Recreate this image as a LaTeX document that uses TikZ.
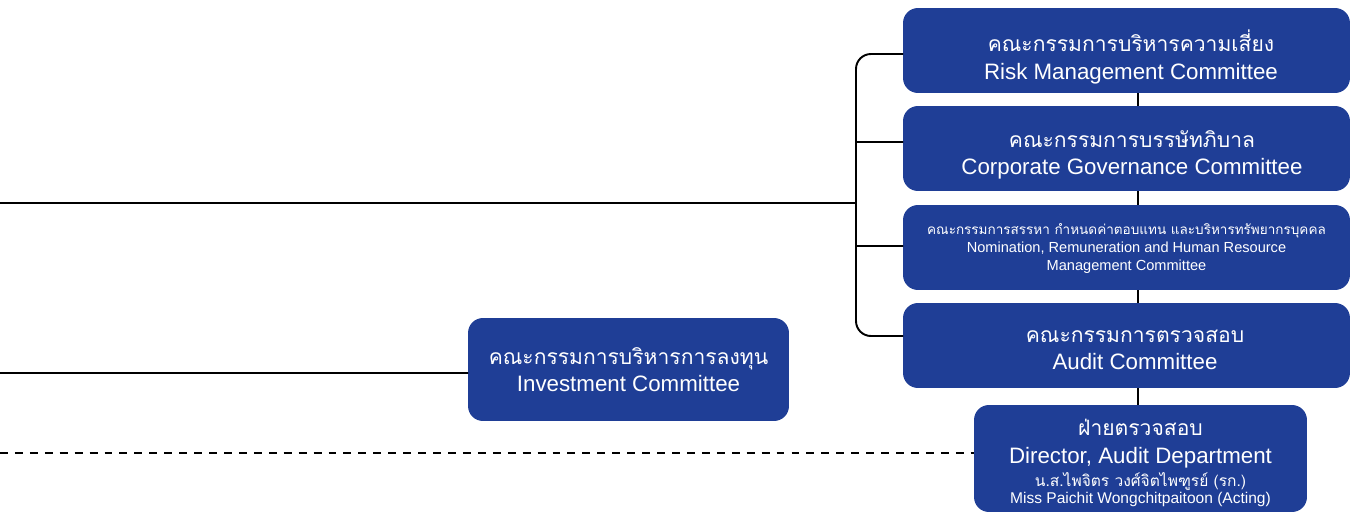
\documentclass[tikz,border=0pt]{standalone}
\usepackage{fontspec}
\setmainfont{Liberation Sans}
\newfontfamily\thaifont[Script=Thai]{Loma}
\definecolor{boardblue}{HTML}{1F3E96}
\newcommand{\thaibig}{\fontsize{12}{15.4}\selectfont\thaifont}
\newcommand{\smallline}{\fontsize{8.3}{10.2}\selectfont}
\newcommand{\namesize}{\fontsize{8.85}{10.2}\selectfont}
\tikzset{
  committee/.style={fill=boardblue, rounded corners=8.5pt, inner sep=0pt},
  wide/.style={committee, minimum width=8.94cm, minimum height=1.7cm},
  boxtext/.style={text=white, align=center, inner sep=0pt, font=\fontsize{12.7}{15.4}\selectfont},
  link/.style={line width=1.1pt},
}
\begin{document}
\begin{tikzpicture}[x=0.02cm, y=-0.02cm, line join=round, line cap=round]
\useasboundingbox (0,0) rectangle (1350,514);
\node[wide] (risk) at (1126.5,50.5) {};
\node[wide] (cg) at (1126.5,148.5) {};
\node[wide] (nrh) at (1126.5,247.5) {};
\node[wide] (audit) at (1126.5,345.5) {};
\node[committee, minimum width=6.66cm, minimum height=2.14cm] (dir) at (1140.5,458.5) {};
\node[committee, minimum width=6.42cm, minimum height=2.06cm] (inv) at (628.5,369.5) {};
\node[boxtext] (riskt) at (1131,57) {{\thaibig คณะกรรมการบริหารความเสี่ยง}\\Risk Management Committee};
\node[boxtext] (cgt) at (1132,155) {{\thaibig คณะกรรมการบรรษัทภิบาล}\\Corporate Governance Committee};
\node[boxtext, font=\smallline] (nrht) at (1126.5,248.5) {{\fontsize{7.7}{10.2}\selectfont\thaifont คณะกรรมการสรรหา กำหนดค่าตอบแทน และบริหารทรัพยากรบุคคล}\\Nomination, Remuneration and Human Resource\\Management Committee};
\node[boxtext] (auditt) at (1135,350) {{\thaibig คณะกรรมการตรวจสอบ}\\Audit Committee};
\node[boxtext] (dirt) at (1140.5,463) {{\thaibig ฝ่ายตรวจสอบ}\\Director, Audit Department\\[-2pt]{\namesize\thaifont น.ส.ไพจิตร วงศ์จิตไพฑูรย์ (รก.)}\\[-6pt]{\namesize Miss Paichit Wongchitpaitoon (Acting)}};
\node[boxtext] (invt) at (628.5,369.5) {{\thaibig คณะกรรมการบริหารการลงทุน}\\Investment Committee};
\coordinate (hub) at (856,203);
\coordinate (board) at (0,203);
\coordinate (invin) at (0,373);
\coordinate (dirin) at (0,453);
\coordinate (spine) at (1138,0);
\draw[link] (board) -- (hub);
\draw[link, rounded corners=8.5pt] (risk.west |- 0,54) -| (hub) |- (audit.west |- 0,336);
\draw[link] (hub |- 0,142) -- (cg.west |- 0,142);
\draw[link] (hub |- 0,246) -- (nrh.west |- 0,246);
\draw[link] (invin) -- (invin -| inv.west);
\draw[link, line cap=butt, dash pattern=on 4.5pt off 4pt] (dirin) -- (dirin -| dir.west);
\draw[link, line cap=butt] (spine |- risk.south) -- (spine |- cg.north);
\draw[link, line cap=butt] (spine |- cg.south) -- (spine |- nrh.north);
\draw[link, line cap=butt] (spine |- nrh.south) -- (spine |- audit.north);
\draw[link, line cap=butt] (spine |- audit.south) -- (spine |- dir.north);
\end{tikzpicture}
\end{document}
